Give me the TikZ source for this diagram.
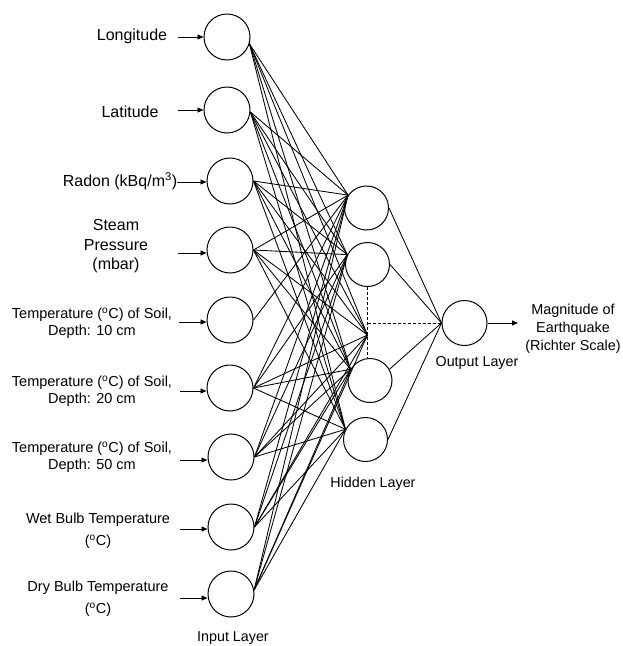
\documentclass[tikz,border=0pt]{standalone}
\usepackage{fontspec}
\setmainfont{Liberation Sans}
\usetikzlibrary{arrows.meta}
\begin{document}
\begin{tikzpicture}[x=1pt,y=-1pt,
  neuron/.style={circle,draw,line width=1pt,minimum size=46pt,inner sep=0pt},
  hneuron/.style={circle,draw,line width=1pt,minimum size=44pt,inner sep=0pt},
  link/.style={line width=0.85pt},
  dashlink/.style={line width=0.8pt,dash pattern=on 3pt off 2pt},
  inarrow/.style={line width=0.95pt,-{Triangle[length=6pt,width=5pt]}},
  biglbl/.style={font=\fontsize{16}{19.5}\selectfont,align=center,inner sep=0pt},
  lbl/.style={font=\fontsize{14.5}{17}\selectfont,align=center,inner sep=0pt},
  layerlbl/.style={font=\fontsize{14.3}{17}\selectfont,align=center,inner sep=0pt}
]
\useasboundingbox (0,0) rectangle (623,646);

% input neurons
\node[neuron] (i1) at (227,37) {};
\node[neuron] (i2) at (227,110) {};
\node[neuron] (i3) at (230,181) {};
\node[neuron] (i4) at (230,250) {};
\node[neuron] (i5) at (230,320) {};
\node[neuron] (i6) at (230,388) {};
\node[neuron] (i7) at (231,457) {};
\node[neuron] (i8) at (231,527) {};
\node[neuron] (i9) at (231,594) {};

% hidden neurons
\node[hneuron] (h1) at (366.5,208) {};
\node[hneuron] (h2) at (367.5,264.5) {};
\node[hneuron] (h3) at (370,380.5) {};
\node[hneuron] (h4) at (365.5,439.5) {};
\coordinate (d) at (367.5,335);

% output neuron
\node[neuron,minimum size=45pt] (o) at (464.5,323) {};

% input labels
\node[biglbl] (l1) at (132,36) {Longitude};
\node[biglbl] (l2) at (130,112) {Latitude};
\node[biglbl] (l3) at (120,181) {Radon (kBq/m\textsuperscript{3})};
\node[biglbl] (l4) at (116,246.5) {Steam\\Pressure\\(mbar)};
\node[lbl] (l5) at (92,323.5) {Temperature (\textsuperscript{o}C) of Soil,\\Depth: 10 cm};
\node[lbl] (l6) at (92,391.5) {Temperature (\textsuperscript{o}C) of Soil,\\Depth: 20 cm};
\node[lbl] (l7) at (92,457.5) {Temperature (\textsuperscript{o}C) of Soil,\\Depth: 50 cm};
\node[lbl] (l8) at (98,530.5) {Wet Bulb Temperature\\[5pt](\textsuperscript{o}C)};
\node[lbl] (l9) at (98,599) {Dry Bulb Temperature\\[5pt](\textsuperscript{o}C)};

% layer labels
\node[layerlbl] (il) at (233,638) {Input Layer};
\node[layerlbl] (hl) at (373,484) {Hidden Layer};
\node[layerlbl] (ol) at (477,363) {Output Layer};
\node[layerlbl,font=\fontsize{14.4}{18}\selectfont] (ml) at (573,328.5) {Magnitude of\\Earthquake\\(Richter Scale)};

% input arrows
\coordinate (a1) at (178,37);
\coordinate (a2) at (178,110);
\coordinate (a3) at (177,182);
\coordinate (a4) at (178,253);
\coordinate (a5) at (179,322);
\coordinate (a6) at (180,391);
\coordinate (a7) at (180,460);
\coordinate (a8) at (180,529);
\coordinate (a9) at (180,598);
\foreach \k in {1,...,9}{
  \draw[inarrow] (a\k) -- (a\k -| i\k.west);
}

% input -> hidden connections
\foreach \s in {i1.-17,i2.-5,i3.east,i4.east,i6.east,i7.east,i8.east,i9.10}{
  \draw[link] (\s) -- (h1.145);
  \draw[link] (\s) -- (h2.154);
  \draw[link] (\s) -- (d);
  \draw[link] (\s) -- (h3.150);
  \draw[link] (\s) -- (h4.153);
}
\draw[link] (i5.east) -- (h1.145);

% dashed ellipsis
\draw[dashlink] (h2.south) -- (h2.south |- h3.north);
\coordinate (dm) at (h2.south |- o.west);
\draw[dashlink] (dm) -- (o.west);

% hidden -> output
\draw[link] (h1.east) -- (o.west);
\draw[link] (h2.east) -- (o.west);
\draw[link] (h3.30) -- (o.west);
\draw[link] (h4.east) -- (o.west);

% output arrow
\coordinate (out) at (518,323);
\draw[inarrow] (o.east) -- (out);
\end{tikzpicture}
\end{document}
